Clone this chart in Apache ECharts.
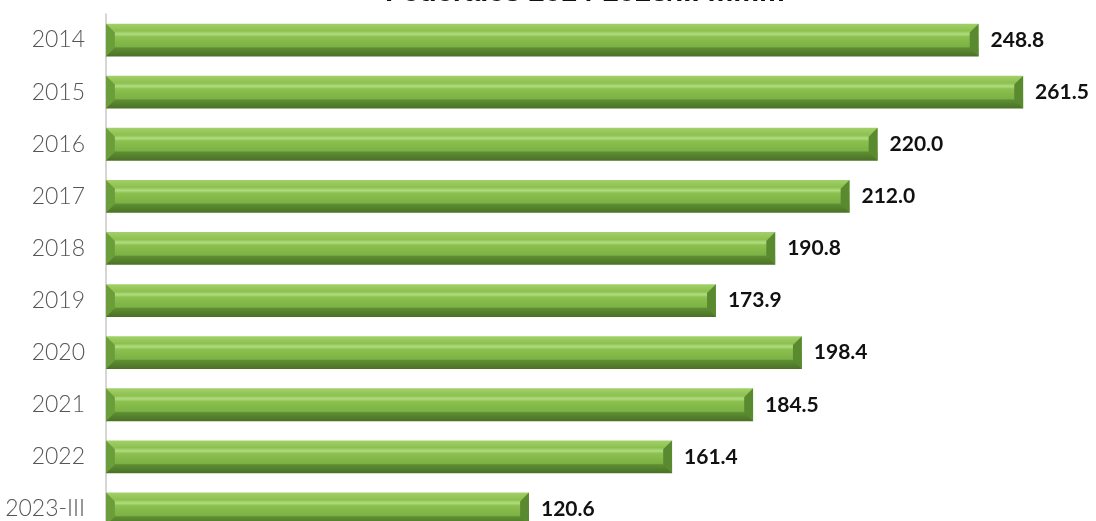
<!DOCTYPE html>
<html>
<head>
<meta charset="utf-8">
<script src="https://cdn.jsdelivr.net/npm/echarts@6/dist/echarts.min.js"></script>
<style>
  html, body { margin: 0; padding: 0; background: #fff; }
  #chart { width: 1096px; height: 521px; }
</style>
</head>
<body>
<div id="chart"></div>
<script>
const titleText = 'Federales 2014-2023/III mmm'
const years = ['2014', '2015', '2016', '2017', '2018', '2019', '2020', '2021', '2022', '2023-III']
const amounts = [248.8, 261.5, 220.0, 212.0, 190.8, 173.9, 198.4, 184.5, 161.4, 120.6]

const chart = echarts.init(document.getElementById('chart'))

// beveled bar, drawn from the axis scales
function renderBar(params, api) {
  const idx = api.value(0)
  const val = api.value(1)
  const start = api.coord([0, idx])
  const end = api.coord([val, idx])
  const h = api.size([0, 1])[1] * 0.63
  const x0 = start[0]
  const x1 = end[0]
  const y0 = start[1] - h / 2
  const y1 = start[1] + h / 2
  const b = h * 0.27
  return {
    type: 'group',
    children: [
      {
        type: 'rect',
        shape: { x: x0, y: y0, width: x1 - x0, height: h },
        style: {
          fill: new echarts.graphic.LinearGradient(0, 0, 0, 1, [
            { offset: 0, color: '#a3d06a' },
            { offset: 0.22, color: '#8cc04f' },
            { offset: 0.32, color: '#b0dc80' },
            { offset: 0.40, color: '#8cc04f' },
            { offset: 0.70, color: '#7cb244' },
            { offset: 0.74, color: '#5e8e33' },
            { offset: 1, color: '#4a7026' }
          ])
        }
      },
      {
        type: 'polygon',
        shape: { points: [[x0, y0], [x0 + b, y0 + b], [x0 + b, y1 - b], [x0, y1]] },
        style: { fill: '#6b9e3b' }
      },
      {
        type: 'polygon',
        shape: { points: [[x1, y0], [x1 - b, y0 + b], [x1 - b, y1 - b], [x1, y1]] },
        style: { fill: '#5a8a30' }
      },
      {
        type: 'text',
        style: {
          x: x1 + 12,
          y: start[1],
          text: val.toFixed(1),
          fill: '#111',
          font: 'bold 21px Lato',
          verticalAlign: 'middle'
        }
      }
    ]
  }
}

chart.setOption({
  animation: false,
  title: {
    text: titleText,
    left: 580,
    textAlign: 'center',
    top: -27,
    textStyle: { fontFamily: 'Liberation Sans', fontWeight: 'bold', fontSize: 29, color: '#111' }
  },
  grid: { left: 106, right: 8, top: 14, bottom: -14, outerBoundsMode: 'none' },
  xAxis: {
    type: 'value',
    min: 0,
    max: 280,
    show: false
  },
  yAxis: {
    type: 'category',
    data: years,
    inverse: true,
    axisTick: { show: false },
    axisLine: { lineStyle: { color: '#c8c8c8', width: 1.5 } },
    axisLabel: { color: '#555', fontFamily: 'Lato', fontWeight: 300, fontSize: 23, margin: 21 }
  },
  series: [{
    type: 'custom',
    renderItem: renderBar,
    encode: { x: 1, y: 0 },
    data: amounts.map((v, i) => [i, v])
  }]
})
</script>
</body>
</html>
